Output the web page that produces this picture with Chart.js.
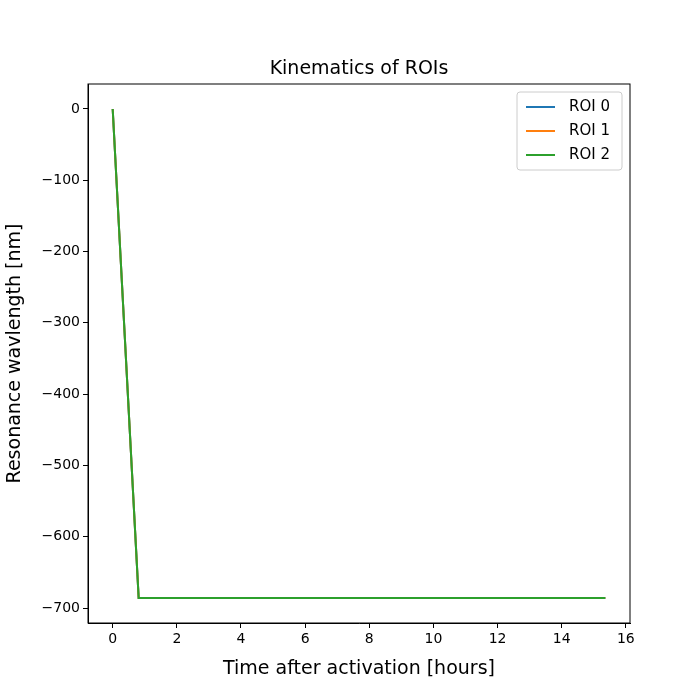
<!DOCTYPE html>
<html>
<head>
<script src="https://cdn.jsdelivr.net/npm/chart.js@4"></script>
<style>body{margin:0;background:#fff}#wrap{width:700px;height:700px}</style>
</head>
<body>
<div id="wrap"><canvas id="c" width="700" height="700"></canvas></div>
<script>
const times = [0, 0.81, 15.36];
const roi0 = [0, -686, -686];
const roi1 = [0, -686, -686];
const roi2 = [0, -686, -686];
const names = ['ROI 0', 'ROI 1', 'ROI 2'];
const colors = ['#1f77b4', '#ff7f0e', '#2ca02c'];
const chartTitle = 'Kinematics of ROIs';

const toPts = arr => arr.map((v, i) => ({x: times[i], y: v}));

// frame, title over the plot, legend box in upper right
const decor = {
    id: 'decor',
    afterDraw(chart) {
        const ctx = chart.ctx, a = chart.chartArea;
        ctx.save();
        ctx.strokeStyle = '#000';
        ctx.lineWidth = 1;
        ctx.strokeRect(a.left, a.top, a.right - a.left, a.bottom - a.top);

        ctx.fillStyle = '#000';
        ctx.font = '19px "DejaVu Sans"';
        ctx.textAlign = 'center';
        ctx.textBaseline = 'middle';
        ctx.fillText(chartTitle, (a.left + a.right) / 2, a.top - 15);

        const w = 105, h = 78, x = a.right - w - 8, y = a.top + 8;
        ctx.fillStyle = 'rgba(255,255,255,0.8)';
        ctx.strokeStyle = '#ccc';
        ctx.beginPath();
        ctx.roundRect(x, y, w, h, 3);
        ctx.fill(); ctx.stroke();
        ctx.font = '15px "DejaVu Sans"';
        ctx.textAlign = 'left';
        names.forEach((n, i) => {
            const ly = y + 15 + i * 24;
            ctx.strokeStyle = colors[i];
            ctx.lineWidth = 2;
            ctx.beginPath(); ctx.moveTo(x + 9, ly); ctx.lineTo(x + 38, ly); ctx.stroke();
            ctx.fillStyle = '#000';
            ctx.fillText(n, x + 52, ly);
        });
        ctx.restore();
    }
};

new Chart(document.getElementById('c'), {
    type: 'line',
    data: {
        datasets: [roi0, roi1, roi2].map((d, i) => ({
            label: names[i], data: toPts(d), borderColor: colors[i],
            borderWidth: 2, pointRadius: 0, tension: 0, order: 2 - i
        }))
    },
    options: {
        responsive: false, animation: false,
        layout: {padding: {top: 84, right: 70, left: 0, bottom: 20}},
        plugins: {
            legend: {display: false},
            tooltip: {enabled: false},
            title: {display: false}
        },
        scales: {
            x: {
                type: 'linear', min: -0.77, max: 16.13,
                afterBuildTicks: s => { s.ticks = [0,2,4,6,8,10,12,14,16].map(v => ({value: v})); },
                grid: {drawOnChartArea: false, tickLength: 5, color: '#000'},
                border: {color: '#000'},
                ticks: {color: '#000', font: {family: 'DejaVu Sans', size: 14}, maxRotation: 0},
                title: {display: true, text: 'Time after activation [hours]', color: '#000',
                    font: {family: 'DejaVu Sans', size: 19}, padding: 0},
                afterFit: s => { s.height = 57; }
            },
            y: {
                min: -721, max: 35,
                afterBuildTicks: s => { s.ticks = [0,-100,-200,-300,-400,-500,-600,-700].map(v => ({value: v})); },
                grid: {drawOnChartArea: false, tickLength: 5, color: '#000'},
                border: {color: '#000'},
                ticks: {color: '#000', font: {family: 'DejaVu Sans', size: 14},
                    callback: v => String(v).replace('-', '\u2212')},
                title: {display: true, text: 'Resonance wavlength [nm]', color: '#000',
                    font: {family: 'DejaVu Sans', size: 19}},
                afterFit: s => { s.width = 88; }
            }
        }
    },
    plugins: [decor]
});
</script>
</body>
</html>
